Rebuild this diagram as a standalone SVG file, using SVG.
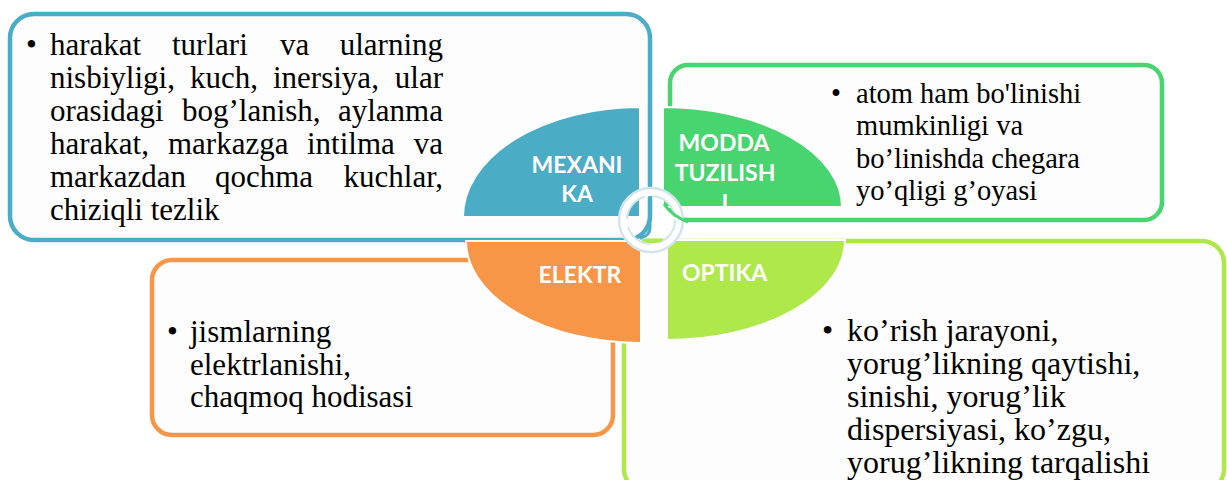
<svg xmlns="http://www.w3.org/2000/svg" width="1227" height="480" viewBox="0 0 1227 480">
<style>
.box{fill:#FDFDFD;stroke-width:4.5}
.quad{stroke:#FFFFFF;stroke-width:2}
.lbl{font-family:Lato,"Open Sans",sans-serif;font-weight:bold;font-size:23px;fill:#FFFFFF}
</style>
<defs>
<clipPath id="clipModda"><path d="M663,207 L663,107 A179,100 0 0 1 842,207 Z"/></clipPath>
</defs>
<rect width="1227" height="480" fill="#FFFFFF"/>
<g id="box-mexanika"><rect class="box" x="10" y="14" width="640" height="226" rx="24" stroke="#4BACC6"/></g>
<g id="box-modda"><rect class="box" x="670" y="65" width="492" height="155" rx="18" stroke="#48D46F"/></g>
<g id="box-optika"><rect class="box" x="624" y="241" width="600" height="250" rx="22" stroke="#AEE84A"/></g>
<g id="box-elektr"><rect class="box" x="152" y="260" width="461" height="175" rx="20" stroke="#F79646"/></g>

<g id="text-mexanika">
<text font-family="Liberation Serif" font-size="31" x="26" y="55">•</text>
<text font-family="Liberation Serif" font-size="31" y="55"><tspan x="50">harakat</tspan><tspan x="172">turlari</tspan><tspan x="280">va</tspan><tspan x="443" text-anchor="end">ularning</tspan></text>
<text font-family="Liberation Serif" font-size="31" y="88"><tspan x="50">nisbiyligi,</tspan><tspan x="190">kuch,</tspan><tspan x="273">inersiya,</tspan><tspan x="443" text-anchor="end">ular</tspan></text>
<text font-family="Liberation Serif" font-size="31" y="121"><tspan x="50">orasidagi</tspan><tspan x="182">bog’lanish,</tspan><tspan x="443" text-anchor="end">aylanma</tspan></text>
<text font-family="Liberation Serif" font-size="31" y="154"><tspan x="50">harakat,</tspan><tspan x="168">markazga</tspan><tspan x="307">intilma</tspan><tspan x="443" text-anchor="end">va</tspan></text>
<text font-family="Liberation Serif" font-size="31" y="187"><tspan x="50">markazdan</tspan><tspan x="215">qochma</tspan><tspan x="443" text-anchor="end">kuchlar,</tspan></text>
<text font-family="Liberation Serif" font-size="31" x="50" y="220">chiziqli tezlik</text>
</g>
<g id="text-modda">
<text font-family="Liberation Serif" font-size="28.5" x="831" y="103">•</text>
<text font-family="Liberation Serif" font-size="28.5" x="856" y="103">atom ham bo'linishi</text>
<text font-family="Liberation Serif" font-size="28.5" x="856" y="135">mumkinligi va</text>
<text font-family="Liberation Serif" font-size="28.5" x="856" y="168">bo’linishda chegara</text>
<text font-family="Liberation Serif" font-size="28.5" x="856" y="200">yo’qligi g’oyasi</text>
</g>
<g id="text-elektr">
<text font-family="Liberation Serif" font-size="31" x="167" y="342">•</text>
<text font-family="Liberation Serif" font-size="31" x="190" y="342">jismlarning</text>
<text font-family="Liberation Serif" font-size="31" x="190" y="375">elektrlanishi,</text>
<text font-family="Liberation Serif" font-size="31" x="190" y="407">chaqmoq hodisasi</text>
</g>
<g id="text-optika">
<text font-family="Liberation Serif" font-size="32" x="822" y="341">•</text>
<text font-family="Liberation Serif" font-size="32" x="847" y="341">ko’rish jarayoni,</text>
<text font-family="Liberation Serif" font-size="32" x="847" y="374">yorug’likning qaytishi,</text>
<text font-family="Liberation Serif" font-size="32" x="847" y="407">sinishi, yorug’lik</text>
<text font-family="Liberation Serif" font-size="32" x="847" y="440">dispersiyasi, ko’zgu,</text>
<text font-family="Liberation Serif" font-size="32" x="847" y="473">yorug’likning tarqalishi</text>
</g>

<g id="node-mexanika">
<path class="quad" d="M640,107 L640,217 L463,217 A177,110 0 0 1 640,107 Z" fill="#4BACC6"/>
<text class="lbl" x="577" y="173" text-anchor="middle">MEXANI</text>
<text class="lbl" x="577" y="202" text-anchor="middle">KA</text>
</g>
<g id="node-modda">
<path class="quad" d="M663,207 L663,107 A179,100 0 0 1 842,207 Z" fill="#48D46F"/>
<text class="lbl" x="724" y="151" text-anchor="middle">MODDA</text>
<text class="lbl" x="725" y="181" text-anchor="middle">TUZILISH</text>
<text class="lbl" x="725" y="211" text-anchor="middle" clip-path="url(#clipModda)">I</text>
</g>
<g id="node-elektr">
<path class="quad" d="M641,241 L641,343 A175,102 0 0 1 466,241 Z" fill="#F79646"/>
<text class="lbl" x="580" y="283" text-anchor="middle">ELEKTR</text>
</g>
<g id="node-optika">
<path class="quad" d="M667,240 L845,240 A178,100 0 0 1 667,340 Z" fill="#AEE84A"/>
<text class="lbl" x="682" y="281">OPTIKA</text>
</g>

<g id="connectors">
<circle cx="651" cy="220" r="28" fill="none" stroke="#FFFFFF" stroke-width="8"/>
<circle cx="651" cy="220" r="32" fill="none" stroke="#D3E4EB" stroke-width="2.5"/>
<circle cx="651" cy="220" r="24" fill="none" stroke="#D3E4EB" stroke-width="2" stroke-dasharray="30 8"/>
<path d="M650,200 L650,228 Q650,236 640,238" fill="none" stroke="#4BACC6" stroke-width="3"/>
<path d="M664,204 Q672,216 688,222" fill="none" stroke="#48D46F" stroke-width="3"/>
<path d="M646,240 L662,240" fill="none" stroke="#AEE84A" stroke-width="3"/>
</g>
</svg>
